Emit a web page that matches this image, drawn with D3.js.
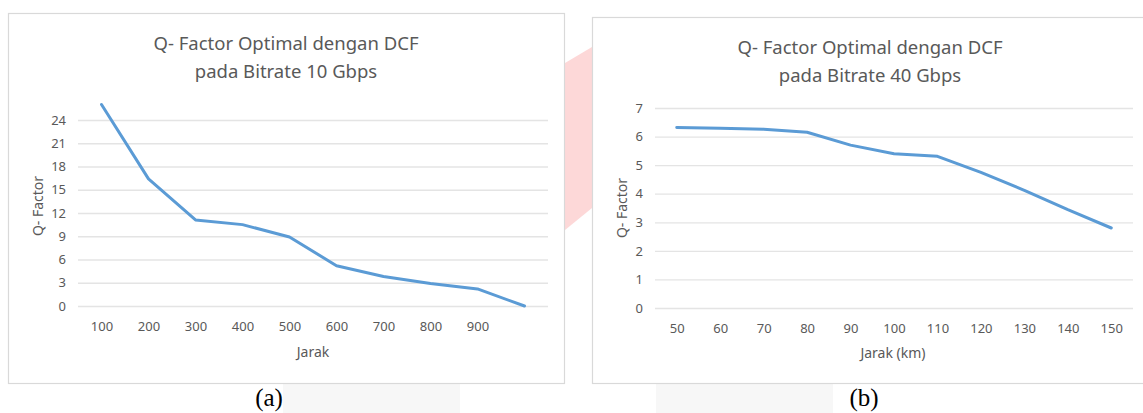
<!DOCTYPE html>
<html><head><meta charset="utf-8">
<script src="https://cdn.jsdelivr.net/npm/d3@7"></script>
<style>body{margin:0;background:#fff;}svg{display:block;}</style>
</head><body>
<svg id="c" width="1143" height="413"></svg>
<script>
// Chart (a)
const catsA = ["100","200","300","400","500","600","700","800","900","1000"];
const tickLabelsA = ["100","200","300","400","500","600","700","800","900",""];
const valsA = [26.0, 16.4, 11.1, 10.5, 8.9, 5.2, 3.8, 2.9, 2.2, 0.0];
const yTicksA = [0,3,6,9,12,15,18,21,24];
const titleA = ["Q- Factor Optimal dengan DCF","pada Bitrate 10 Gbps"];
const xTitleA = "Jarak";
// Chart (b)
const catsB = ["50","60","70","80","90","100","110","120","130","140","150"];
const valsB = [6.32, 6.29, 6.26, 6.15, 5.70, 5.40, 5.31, 4.75, 4.12, 3.44, 2.80];
const yTicksB = [0,1,2,3,4,5,6,7];
const titleB = ["Q- Factor Optimal dengan DCF","pada Bitrate 40 Gbps"];
const xTitleB = "Jarak (km)";
const yTitle = "Q- Factor";
const captions = ["(a)","(b)"];

const svg = d3.select("#c");
const FONT = "'Noto Sans', 'Open Sans', sans-serif";

// background decorations
svg.append("rect").attr("x",283).attr("y",383).attr("width",177).attr("height",30).attr("fill","#f7f7f7");
svg.append("rect").attr("x",656).attr("y",383).attr("width",177).attr("height",30).attr("fill","#f7f7f7");
svg.append("polygon").attr("points","565,63 592,47 592,208 565,230").attr("fill","#fdd8d8");

function drawChart(cfg){
  const g = svg.append("g");
  g.append("rect").attr("x",cfg.frame[0]+0.5).attr("y",cfg.frame[1]+0.5)
    .attr("width",cfg.frame[2]).attr("height",cfg.frame[3])
    .attr("fill","none").attr("stroke","#d9d9d9").attr("stroke-width",1.2);
  const x = d3.scalePoint().domain(cfg.cats).range([cfg.x0,cfg.x1]).padding(0.5);
  const y = d3.scaleLinear().domain(cfg.yDomain).range([cfg.yBottom,cfg.yTop]);
  // grid
  const yAxis = d3.axisLeft(y).tickValues(cfg.yTicks).tickFormat(d3.format("d"))
    .tickSize(-(cfg.x1-cfg.x0)).tickPadding(12);
  const ga = g.append("g").attr("transform",`translate(${cfg.x0},0)`).call(yAxis);
  ga.select(".domain").remove();
  ga.selectAll(".tick line").attr("stroke","#e4e4e4").attr("stroke-width",1.3);
  ga.selectAll(".tick text").attr("fill","#595959").style("font-family",FONT).style("font-size","13px");
  const xAxis = d3.axisBottom(x).tickSize(0).tickPadding(16).tickFormat((d,i)=>cfg.tickLabels[i]);
  const gx = g.append("g").attr("transform",`translate(0,${cfg.yBottom})`).call(xAxis);
  gx.select(".domain").remove();
  gx.selectAll(".tick text").attr("fill","#595959").style("font-family",FONT).style("font-size","13px");
  // line
  const line = d3.line().x((d,i)=>x(cfg.cats[i])).y(d=>y(d));
  g.append("path").datum(cfg.vals).attr("d",line).attr("fill","none")
    .attr("stroke","#5b9bd5").attr("stroke-width",3).attr("stroke-linejoin","round").attr("stroke-linecap","round");
  // titles
  g.append("text").attr("x",cfg.titleX).attr("y",cfg.titleY).attr("text-anchor","middle")
    .attr("fill","#595959").style("font-family",FONT).style("font-size","18.5px")
    .selectAll("tspan").data(cfg.title).join("tspan")
    .attr("x",cfg.titleX).attr("dy",(d,i)=>i?28:0).text(d=>d);
  g.append("text").attr("x",cfg.xTitleX).attr("y",cfg.xTitleY).attr("text-anchor","middle")
    .attr("fill","#595959").style("font-family",FONT).style("font-size","14px").text(cfg.xTitle);
  g.append("text").attr("transform",`translate(${cfg.yTitleX},${cfg.yTitleY}) rotate(-90)`)
    .attr("text-anchor","middle").attr("fill","#595959").style("font-family",FONT).style("font-size","14px").text(yTitle);
  g.append("text").attr("x",cfg.capX).attr("y",406).attr("text-anchor","middle")
    .attr("fill","#000").style("font-family","'Liberation Serif', 'DejaVu Serif', serif").style("font-size","25px").text(cfg.caption);
}

drawChart({frame:[8,13,556,370], cats:catsA, tickLabels:tickLabelsA, vals:valsA, yTicks:yTicksA,
  yDomain:[0,24], x0:78, x1:548, yBottom:306, yTop:120, titleX:286, titleY:50, title:titleA,
  xTitle:xTitleA, xTitleX:313, xTitleY:357, yTitleX:43, yTitleY:206, capX:269, caption:captions[0]});
drawChart({frame:[592,17,560,366], cats:catsB, tickLabels:catsB, vals:valsB, yTicks:yTicksB,
  yDomain:[0,7], x0:655, x1:1133, yBottom:308, yTop:108, titleX:870, titleY:54, title:titleB,
  xTitle:xTitleB, xTitleX:893, xTitleY:358, yTitleX:627, yTitleY:208, capX:864, caption:captions[1]});
</script>
</body></html>
